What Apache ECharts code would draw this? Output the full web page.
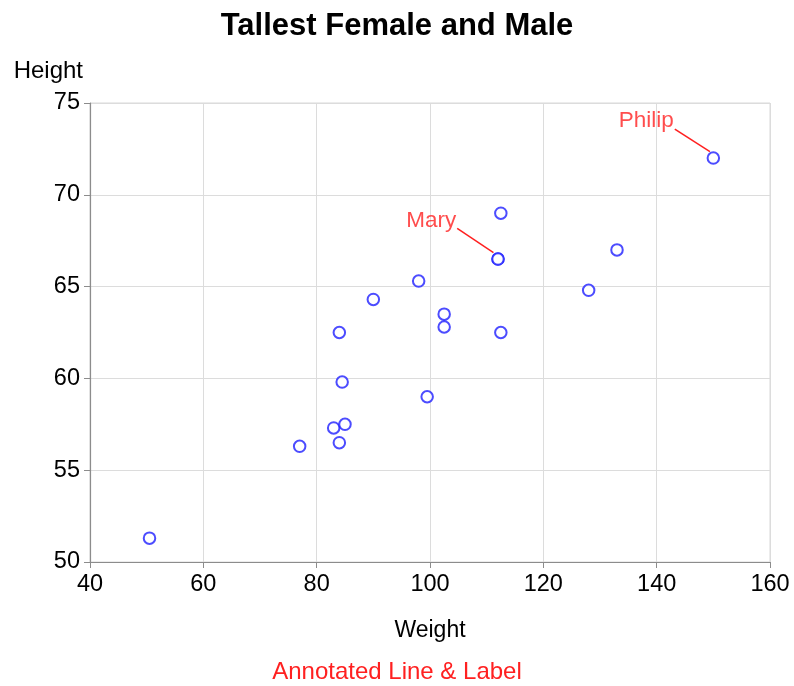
<!DOCTYPE html>
<html>
<head>
<meta charset="utf-8">
<script src="https://cdn.jsdelivr.net/npm/echarts@6/dist/echarts.min.js"></script>
<style>html,body{margin:0;padding:0;background:#fff}#c{width:794px;height:686px}</style>
</head>
<body>
<div id="c"></div>
<script>
// sashelp.class
var names = ["Alfred","Alice","Barbara","Carol","Henry","James","Jane","Janet","Jeffrey","John","Joyce","Judy","Louise","Mary","Philip","Robert","Ronald","Thomas","William"];
var weights = [112.5,84.0,98.0,102.5,102.5,83.0,84.5,112.5,84.0,99.5,50.5,90.0,77.0,112.0,150.0,128.0,133.0,85.0,112.0];
var heights = [69.0,56.5,65.3,62.8,63.5,57.3,59.8,62.5,62.5,59.0,51.3,64.3,56.3,66.5,72.0,64.8,67.0,57.5,66.5];

var xTicks = [40,60,80,100,120,140,160];
var yTicks = [50,55,60,65,70,75];

// annotations: label start point and line end point (data coords)
var annoLabels = ["Mary","Philip"];
var annoStart = [[104.8,68.17],[143.2,73.58]];
var annoEnd = [[111.2,66.85],[149.4,72.35]];

var FONT = "Liberation Sans, Arial, sans-serif";
var chart = echarts.init(document.getElementById('c'));

var pts = weights.map(function(w,i){return [w,heights[i]];});
var series = [{
  type:'scatter',
  data: pts,
  symbol:'circle',
  symbolSize:11.5,
  itemStyle:{color:'#ffffff',borderColor:'#1f1fff',borderWidth:2},
  z:5
}];
annoLabels.forEach(function(n,i){
  series.push({
    type:'line',
    data:[annoStart[i],annoEnd[i]],
    symbol:'none',
    lineStyle:{color:'#ff2020',width:1.5},
    silent:true,
    z:4
  });
  series.push({
    type:'scatter',
    data:[annoStart[i]],
    symbolSize:0,
    label:{show:true,position:'left',distance:1,offset:[0,-8],formatter:n,color:'#ff2020',fontFamily:FONT,fontSize:22.5},
    silent:true,
    z:6
  });
});

chart.setOption({
  animation:false,
  title:[
    {text:'Tallest Female and Male',left:'center',top:6,textStyle:{fontFamily:FONT,fontSize:31,fontWeight:'bold',color:'#000'}},
    {text:'Annotated Line & Label',left:'center',top:655,textStyle:{fontFamily:FONT,fontSize:24,fontWeight:'normal',color:'#ff2020'}}
  ],
  grid:{left:90,right:24,top:103,bottom:124,show:true,borderColor:'#d8d8d8',borderWidth:1},
  xAxis:{
    type:'value',min:40,max:160,interval:20,
    name:'Weight',nameLocation:'middle',nameGap:57,
    nameTextStyle:{fontFamily:FONT,fontSize:23,color:'#000',verticalAlign:'top'},
    axisLine:{show:true,lineStyle:{color:'#8c8c8c',width:1.2}},
    axisTick:{show:true,length:6,lineStyle:{color:'#8c8c8c'}},
    axisLabel:{fontFamily:FONT,fontSize:23.5,color:'#000',margin:11,
      formatter:function(v){return xTicks.indexOf(v)>=0?String(v):'';}},
    splitLine:{show:true,lineStyle:{color:'#dcdcdc',width:1}}
  },
  yAxis:{
    type:'value',min:50,max:75,interval:5,
    name:'Height',nameLocation:'end',nameGap:20,
    nameTextStyle:{fontFamily:FONT,fontSize:24,color:'#000',align:'right',verticalAlign:'bottom',padding:[0,7,0,0]},
    axisLine:{show:true,lineStyle:{color:'#8c8c8c',width:1.2}},
    axisTick:{show:true,length:6,lineStyle:{color:'#8c8c8c'}},
    axisLabel:{fontFamily:FONT,fontSize:23.5,color:'#000',margin:10,
      formatter:function(v){return yTicks.indexOf(v)>=0?String(v):'';}},
    splitLine:{show:true,lineStyle:{color:'#dcdcdc',width:1}}
  },
  series:series
});
</script>
</body>
</html>
